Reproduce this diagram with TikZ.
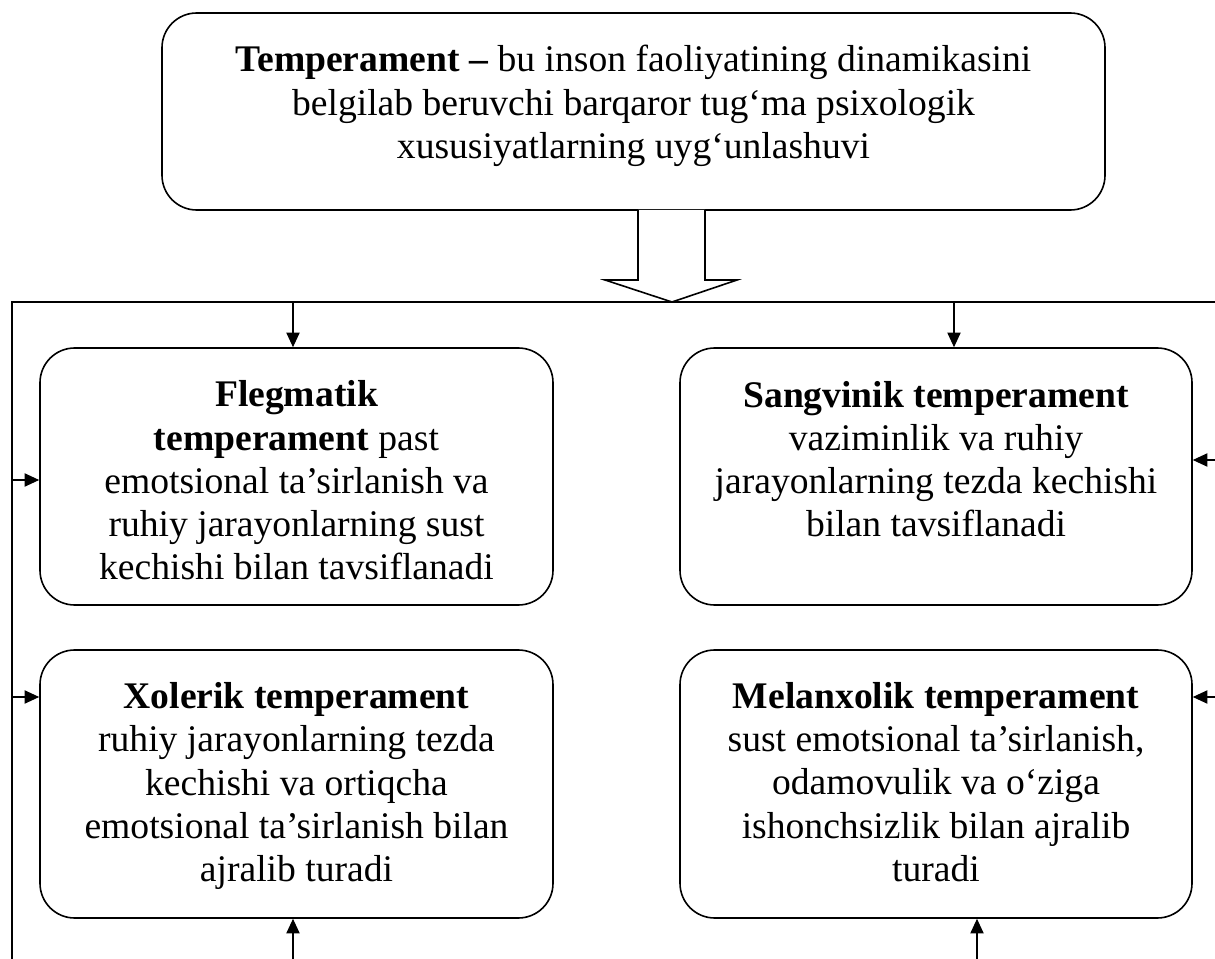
\documentclass[tikz,border=0pt]{standalone}
\usepackage{fontspec}
\setmainfont{Liberation Serif}
\usetikzlibrary{arrows.meta}

\tikzset{
  tbox/.style={draw, line width=1.2pt, rounded corners=26pt, inner sep=0pt},
  ttext/.style={align=center, inner sep=0pt, font=\fontsize{28.2}{32.4}\selectfont},
  conn/.style={line width=0.9pt, -{Triangle[length=11pt,width=10pt]}},
}

\begin{document}
\begin{tikzpicture}[x=0.75pt,y=0.75pt,yscale=-1,xscale=1]
    \useasboundingbox (0,0) rectangle (1215,959);

    %Rounded Rect: definition
    \node [tbox, minimum width=707.25pt, minimum height=147.75pt] (defn) at (633.5,111.5) {};
    \node [ttext] (defntext) at (633.5,106) {\textbf{Temperament –} bu inson faoliyatining dinamikasini\\
      belgilab beruvchi barqaror tug‘ma psixologik\\
      xususiyatlarning uyg‘unlashuvi};

    %Shape: Block arrow
    \draw [line width=1.2pt, fill=white] (638,210) -- (638,280) -- (605,280) -- (672,302) -- (737,280) -- (705,280) -- (705,210) ;

    %Rounded Rect: four types
    \node [tbox, minimum width=384.75pt, minimum height=192.75pt] (fleg) at (296.5,476.5) {};
    \node [tbox, minimum width=384pt, minimum height=192.75pt] (sang) at (936,476.5) {};
    \node [tbox, minimum width=384.75pt, minimum height=201pt] (xol) at (296.5,784) {};
    \node [tbox, minimum width=384pt, minimum height=201pt] (mel) at (936,784) {};

    \node [ttext] (flegtext) at (296.5,480.5) {\textbf{Flegmatik}\\
      \textbf{temperament} past\\
      emotsional ta’sirlanish va\\
      ruhiy jarayonlarning sust\\
      kechishi bilan tavsiflanadi};
    \node [ttext] (sangtext) at (936,459) {\textbf{Sangvinik temperament}\\
      vaziminlik va ruhiy\\
      jarayonlarning tezda kechishi\\
      bilan tavsiflanadi};
    \node [ttext] (xoltext) at (296.5,786) {\textbf{Xolerik temperament}\\
      ruhiy jarayonlarning tezda\\
      kechishi va ortiqcha\\
      emotsional ta’sirlanish bilan\\
      ajralib turadi};
    \node [ttext] (meltext) at (936,782) {\textbf{Melanxolik temperament}\\
      sust emotsional ta’sirlanish,\\
      odamovulik va o‘ziga\\
      ishonchsizlik bilan ajralib\\
      turadi};

    %Straight Lines: frame
    \draw [line width=0.9pt] (12,959) -- (12,302) -- (1215,302) ;

    \coordinate (t1) at (293,302);
    \coordinate (t2) at (954,302);
    \coordinate (l1) at (12,480);
    \coordinate (l2) at (12,697);
    \coordinate (r1) at (1215,460);
    \coordinate (r2) at (1215,697);
    \coordinate (b1) at (293,959);
    \coordinate (b2) at (977,959);

    %Straight Lines: arrows into boxes
    \draw [conn] (t1) -- (t1 |- fleg.north) ;
    \draw [conn] (t2) -- (t2 |- sang.north) ;
    \draw [conn] (l1) -- (l1 -| fleg.west) ;
    \draw [conn] (l2) -- (l2 -| xol.west) ;
    \draw [conn] (r1) -- (r1 -| sang.east) ;
    \draw [conn] (r2) -- (r2 -| mel.east) ;
    \draw [conn] (b1) -- (b1 |- xol.south) ;
    \draw [conn] (b2) -- (b2 |- mel.south) ;

\end{tikzpicture}
\end{document}
